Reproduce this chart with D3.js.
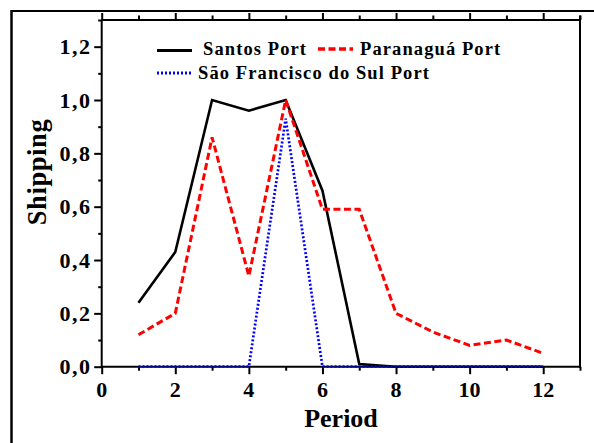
<!DOCTYPE html>
<html>
<head>
<meta charset="utf-8">
<script src="https://cdnjs.cloudflare.com/ajax/libs/d3/7.8.5/d3.min.js"></script>
<style>
    body { margin: 0; background: #fff; }
    text { font-family: "Liberation Serif", "Times New Roman", serif; font-weight: bold; fill: #000; }
</style>
</head>
<body>
<div id="chart"></div>
<script>
var periods = [1, 2, 3, 4, 5, 6, 7, 8, 9, 10, 11, 12];
var santos = [0.24, 0.43, 1.0, 0.96, 1.0, 0.66, 0.01, 0, 0, 0, 0, 0];
var paranagua = [0.12, 0.20, 0.86, 0.34, 1.0, 0.59, 0.59, 0.20, 0.13, 0.08, 0.10, 0.05];
var saoFrancisco = [0, 0, 0, 0, 0.93, 0, 0, 0, 0, 0, 0, 0];
var xTicks = [0, 2, 4, 6, 8, 10, 12];
var yTicks = [0, 0.2, 0.4, 0.6, 0.8, 1.0, 1.2];
var seriesNames = ['Santos Port', 'Paranaguá Port', 'São Francisco do Sul Port'];

var W = 594, H = 443;
var mLeft = 101.7, mRight = 580, mTop = 20, mBottom = 366.7;

var svg = d3.select('#chart').append('svg')
    .attr('width', W)
    .attr('height', H);

// outer frame (only top and left edges are visible in the picture)
svg.append('line').attr('x1', 11.5).attr('x2', W).attr('y1', 11).attr('y2', 11)
    .attr('stroke', '#000').attr('stroke-width', 2);
svg.append('line').attr('x1', 11.5).attr('x2', 11.5).attr('y1', 10).attr('y2', H)
    .attr('stroke', '#000').attr('stroke-width', 2.5);

var xScale = d3.scaleLinear().domain([0, 13]).range([mLeft, mRight]);
var yScale = d3.scaleLinear().domain([0, 1.3]).range([mBottom, mTop]);

var fmt = function (d) { return d3.format('.1f')(d).replace('.', ','); };

// bottom axis
var xAxis = svg.append('g')
    .attr('transform', 'translate(0,' + mBottom + ')')
    .call(d3.axisBottom(xScale).tickValues(d3.range(0, 14, 1)).tickSize(4).tickFormat(''));
xAxis.selectAll('.tick').filter(function (d) { return d % 2 === 0; }).select('line').attr('y2', 7.5);
xAxis.selectAll('line, path').attr('stroke', '#000').attr('stroke-width', 2);
xAxis.select('.domain').attr('d', 'M' + mLeft + ',0H' + mRight);
svg.append('g').selectAll('text')
    .data(xTicks)
    .enter().append('text')
    .attr('x', function (d) { return xScale(d); })
    .attr('y', 397)
    .attr('text-anchor', 'middle')
    .style('font-size', '22px')
    .text(function (d) { return d; });

// top axis, ticks only
var xTop = svg.append('g')
    .attr('transform', 'translate(0,' + mTop + ')')
    .call(d3.axisTop(xScale).tickValues(d3.range(0, 14, 1)).tickSize(4.5).tickFormat(''));
xTop.selectAll('.tick').filter(function (d) { return d % 2 === 0; }).select('line').attr('y2', -7);
xTop.selectAll('line, path').attr('stroke', '#000').attr('stroke-width', 2);
xTop.select('.domain').attr('d', 'M' + mLeft + ',0H' + mRight);

// left axis
var yAxis = svg.append('g')
    .attr('transform', 'translate(' + mLeft + ',0)')
    .call(d3.axisLeft(yScale).tickValues(d3.range(0, 1.31, 0.1)).tickSize(3.5).tickFormat(''));
yAxis.selectAll('.tick').filter(function (d, i) { return i % 2 === 0; }).select('line').attr('x2', -7.5);
yAxis.selectAll('line, path').attr('stroke', '#000').attr('stroke-width', 2);
yAxis.select('.domain').attr('d', 'M0,' + (mBottom + 1) + 'V' + mTop);
svg.append('g').selectAll('text')
    .data(yTicks)
    .enter().append('text')
    .attr('x', 91.5)
    .attr('y', function (d) { return yScale(d); })
    .attr('dy', '0.35em')
    .attr('text-anchor', 'end')
    .style('font-size', '22px')
    .style('letter-spacing', '1.5px')
    .text(fmt);

// right axis, plain line
svg.append('line').attr('x1', mRight).attr('x2', mRight).attr('y1', 15.5).attr('y2', mBottom + 1)
    .attr('stroke', '#000').attr('stroke-width', 2);

// axis titles
svg.append('text')
    .attr('x', 341)
    .attr('y', 427)
    .attr('text-anchor', 'middle')
    .style('font-size', '26px')
    .text('Period');
svg.append('text')
    .attr('transform', 'translate(46,172) rotate(-90)')
    .attr('text-anchor', 'middle')
    .style('font-size', '26.5px')
    .style('letter-spacing', '0.6px')
    .text('Shipping');

// series
var styles = [
    {values: santos, color: '#000', width: 2.6, dash: null},
    {values: paranagua, color: '#ff0000', width: 3, dash: '7,3.5'},
    {values: saoFrancisco, color: '#0000ff', width: 2.7, dash: '2,2'}
];
var line = d3.line()
    .x(function (d) { return xScale(d[0]); })
    .y(function (d) { return yScale(d[1]); });

styles.forEach(function (s) {
    svg.append('path')
        .datum(periods.map(function (p, i) { return [p, s.values[i]]; }))
        .attr('d', line)
        .attr('fill', 'none')
        .attr('stroke', s.color)
        .attr('stroke-width', s.width)
        .attr('stroke-dasharray', s.dash);
});

// legend
var legendPos = [
    {x: 157, y: 50.5, tx: 203, ty: 55},
    {x: 318, y: 49, tx: 360, ty: 55},
    {x: 157, y: 73, tx: 198, ty: 79}
];
styles.forEach(function (s, i) {
    var p = legendPos[i];
    svg.append('line')
        .attr('x1', p.x).attr('x2', p.x + 35)
        .attr('y1', p.y).attr('y2', p.y)
        .attr('stroke', s.color)
        .attr('stroke-width', s.width + 0.3)
        .attr('stroke-dasharray', s.dash);
    svg.append('text')
        .attr('x', p.tx)
        .attr('y', p.ty)
        .style('font-size', '18.5px')
        .style('letter-spacing', '1.1px')
        .text(seriesNames[i]);
});
</script>
</body>
</html>
